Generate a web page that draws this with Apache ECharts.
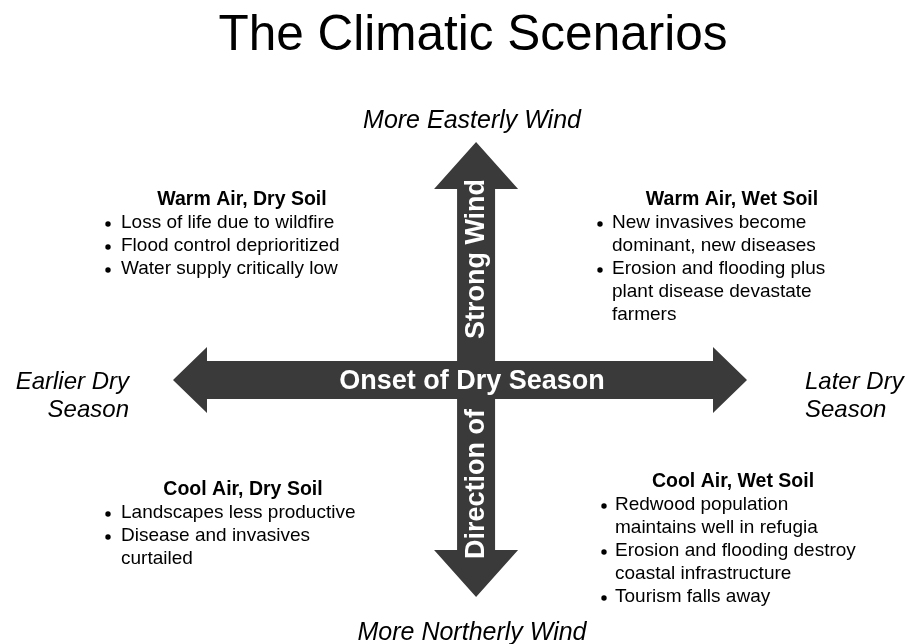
<!DOCTYPE html>
<html><head><meta charset="utf-8">
<script src="https://cdn.jsdelivr.net/npm/echarts@6/dist/echarts.min.js"></script>
<style>html,body{margin:0;padding:0;background:#fff}#c{width:909px;height:644px}</style>
</head><body><div id="c"></div>
<script>
// ---- content ----
const titleText = 'The Climatic Scenarios';
const hAxisLabel = 'Onset of Dry Season';
const vAxisLabels = ['Direction of', 'Strong Wind'];
const poleTop = 'More Easterly Wind';
const poleBottom = 'More Northerly Wind';
const poleLeft = ['Earlier Dry', 'Season'];
const poleRight = ['Later Dry', 'Season'];
// arrow extents in the diagram's value space (x: dry-season onset, y: wind direction)
const hArrowX = [-100, 100];
const hArrowY = -4.6;
const vArrowY = [-100, 100];
const vArrowX = 5.6;
// quadrants: heading + bullet items (each item = wrapped lines)
const qNWHead = 'Warm Air, Dry Soil';
const qNWItems = [['Loss of life due to wildfire'], ['Flood control deprioritized'], ['Water supply critically low']];
const qNEHead = 'Warm Air, Wet Soil';
const qNEItems = [['New invasives become', 'dominant, new diseases'], ['Erosion and flooding plus', 'plant disease devastate', 'farmers']];
const qSWHead = 'Cool Air, Dry Soil';
const qSWItems = [['Landscapes less productive'], ['Disease and invasives', 'curtailed']];
const qSEHead = 'Cool Air, Wet Soil';
const qSEItems = [['Redwood population', 'maintains well in refugia'], ['Erosion and flooding destroy', 'coastal infrastructure'], ['Tourism falls away']];

// ---- styling / layout ----
const FONT = "'Liberation Sans', Arial, sans-serif";
const ARROW = '#3a3a3a';
const chart = echarts.init(document.getElementById('c'), null, {renderer: 'canvas'});

function arrowShape(api, dir) {
  const shaft = 19;
  if (dir === 'h') {
    const a = api.coord([hArrowX[0], hArrowY]);
    const b = api.coord([hArrowX[1], hArrowY]);
    const y = a[1], hl = 34, hw = 33;
    return [[a[0], y], [a[0] + hl, y - hw], [a[0] + hl, y - shaft], [b[0] - hl, y - shaft], [b[0] - hl, y - hw], [b[0], y],
      [b[0] - hl, y + hw], [b[0] - hl, y + shaft], [a[0] + hl, y + shaft], [a[0] + hl, y + hw]];
  }
  const t = api.coord([vArrowX, vArrowY[1]]);
  const d = api.coord([vArrowX, vArrowY[0]]);
  const x = t[0], hl = 47, hw = 42;
  return [[x, t[1]], [x + hw, t[1] + hl], [x + shaft, t[1] + hl], [x + shaft, d[1] - hl], [x + hw, d[1] - hl], [x, d[1]],
    [x - hw, d[1] - hl], [x - shaft, d[1] - hl], [x - shaft, t[1] + hl], [x - hw, t[1] + hl]];
}

function txt(text, x, y, size, opts) {
  opts = opts || {};
  return {
    type: 'text', x: x, y: y, z: 100, rotation: opts.rotation || 0,
    style: {
      text: text, fill: opts.fill || '#000',
      font: (opts.italic ? 'italic ' : '') + (opts.bold ? 'bold ' : '') + size + 'px ' + FONT,
      align: opts.align || 'center', verticalAlign: 'middle'
    }
  };
}

function quadrant(head, items, headX, headY, bulletX, textX) {
  const out = [txt(head, headX, headY, 19.5, {bold: true})];
  let y = headY + 23;
  items.forEach(lines => {
    out.push({type: 'circle', z: 100, shape: {cx: bulletX, cy: y + 1, r: 2.7}, style: {fill: '#000'}});
    lines.forEach(l => { out.push(txt(l, textX, y, 19, {align: 'left'})); y += 23; });
  });
  return out;
}

let graphics = [];
graphics.push(txt(titleText, 473, 36, 49.5));
graphics.push(txt(poleTop, 472, 121, 25, {italic: true}));
graphics.push(txt(poleBottom, 472, 633, 25, {italic: true}));
graphics.push(txt(poleLeft[0], 129, 382, 24, {italic: true, align: 'right'}));
graphics.push(txt(poleLeft[1], 129, 410, 24, {italic: true, align: 'right'}));
graphics.push(txt(poleRight[0], 805, 382, 24, {italic: true, align: 'left'}));
graphics.push(txt(poleRight[1], 805, 410, 24, {italic: true, align: 'left'}));
graphics.push(txt(hAxisLabel, 472, 382, 27, {bold: true, fill: '#fff'}));
graphics.push(txt(vAxisLabels[0], 477, 484, 27, {bold: true, fill: '#fff', rotation: Math.PI / 2}));
graphics.push(txt(vAxisLabels[1], 477, 259, 27, {bold: true, fill: '#fff', rotation: Math.PI / 2}));
graphics = graphics.concat(quadrant(qNWHead, qNWItems, 242, 200, 108, 121));
graphics = graphics.concat(quadrant(qNEHead, qNEItems, 732, 200, 600, 612));
graphics = graphics.concat(quadrant(qSWHead, qSWItems, 243, 490, 108, 121));
graphics = graphics.concat(quadrant(qSEHead, qSEItems, 733, 482, 604, 615));

chart.setOption({
  backgroundColor: '#fff',
  animation: false,
  grid: {left: 173, right: 162, top: 142, bottom: 47},
  xAxis: {type: 'value', min: -100, max: 100, show: false},
  yAxis: {type: 'value', min: -100, max: 100, show: false},
  graphic: graphics,
  series: [{
    type: 'custom',
    coordinateSystem: 'cartesian2d',
    data: [['v'], ['h']],
    encode: {x: [], y: []},
    renderItem: function (params, api) {
      const dir = params.dataIndex === 0 ? 'v' : 'h';
      return {type: 'polygon', shape: {points: arrowShape(api, dir)}, style: {fill: ARROW}};
    }
  }]
});
</script></body></html>
